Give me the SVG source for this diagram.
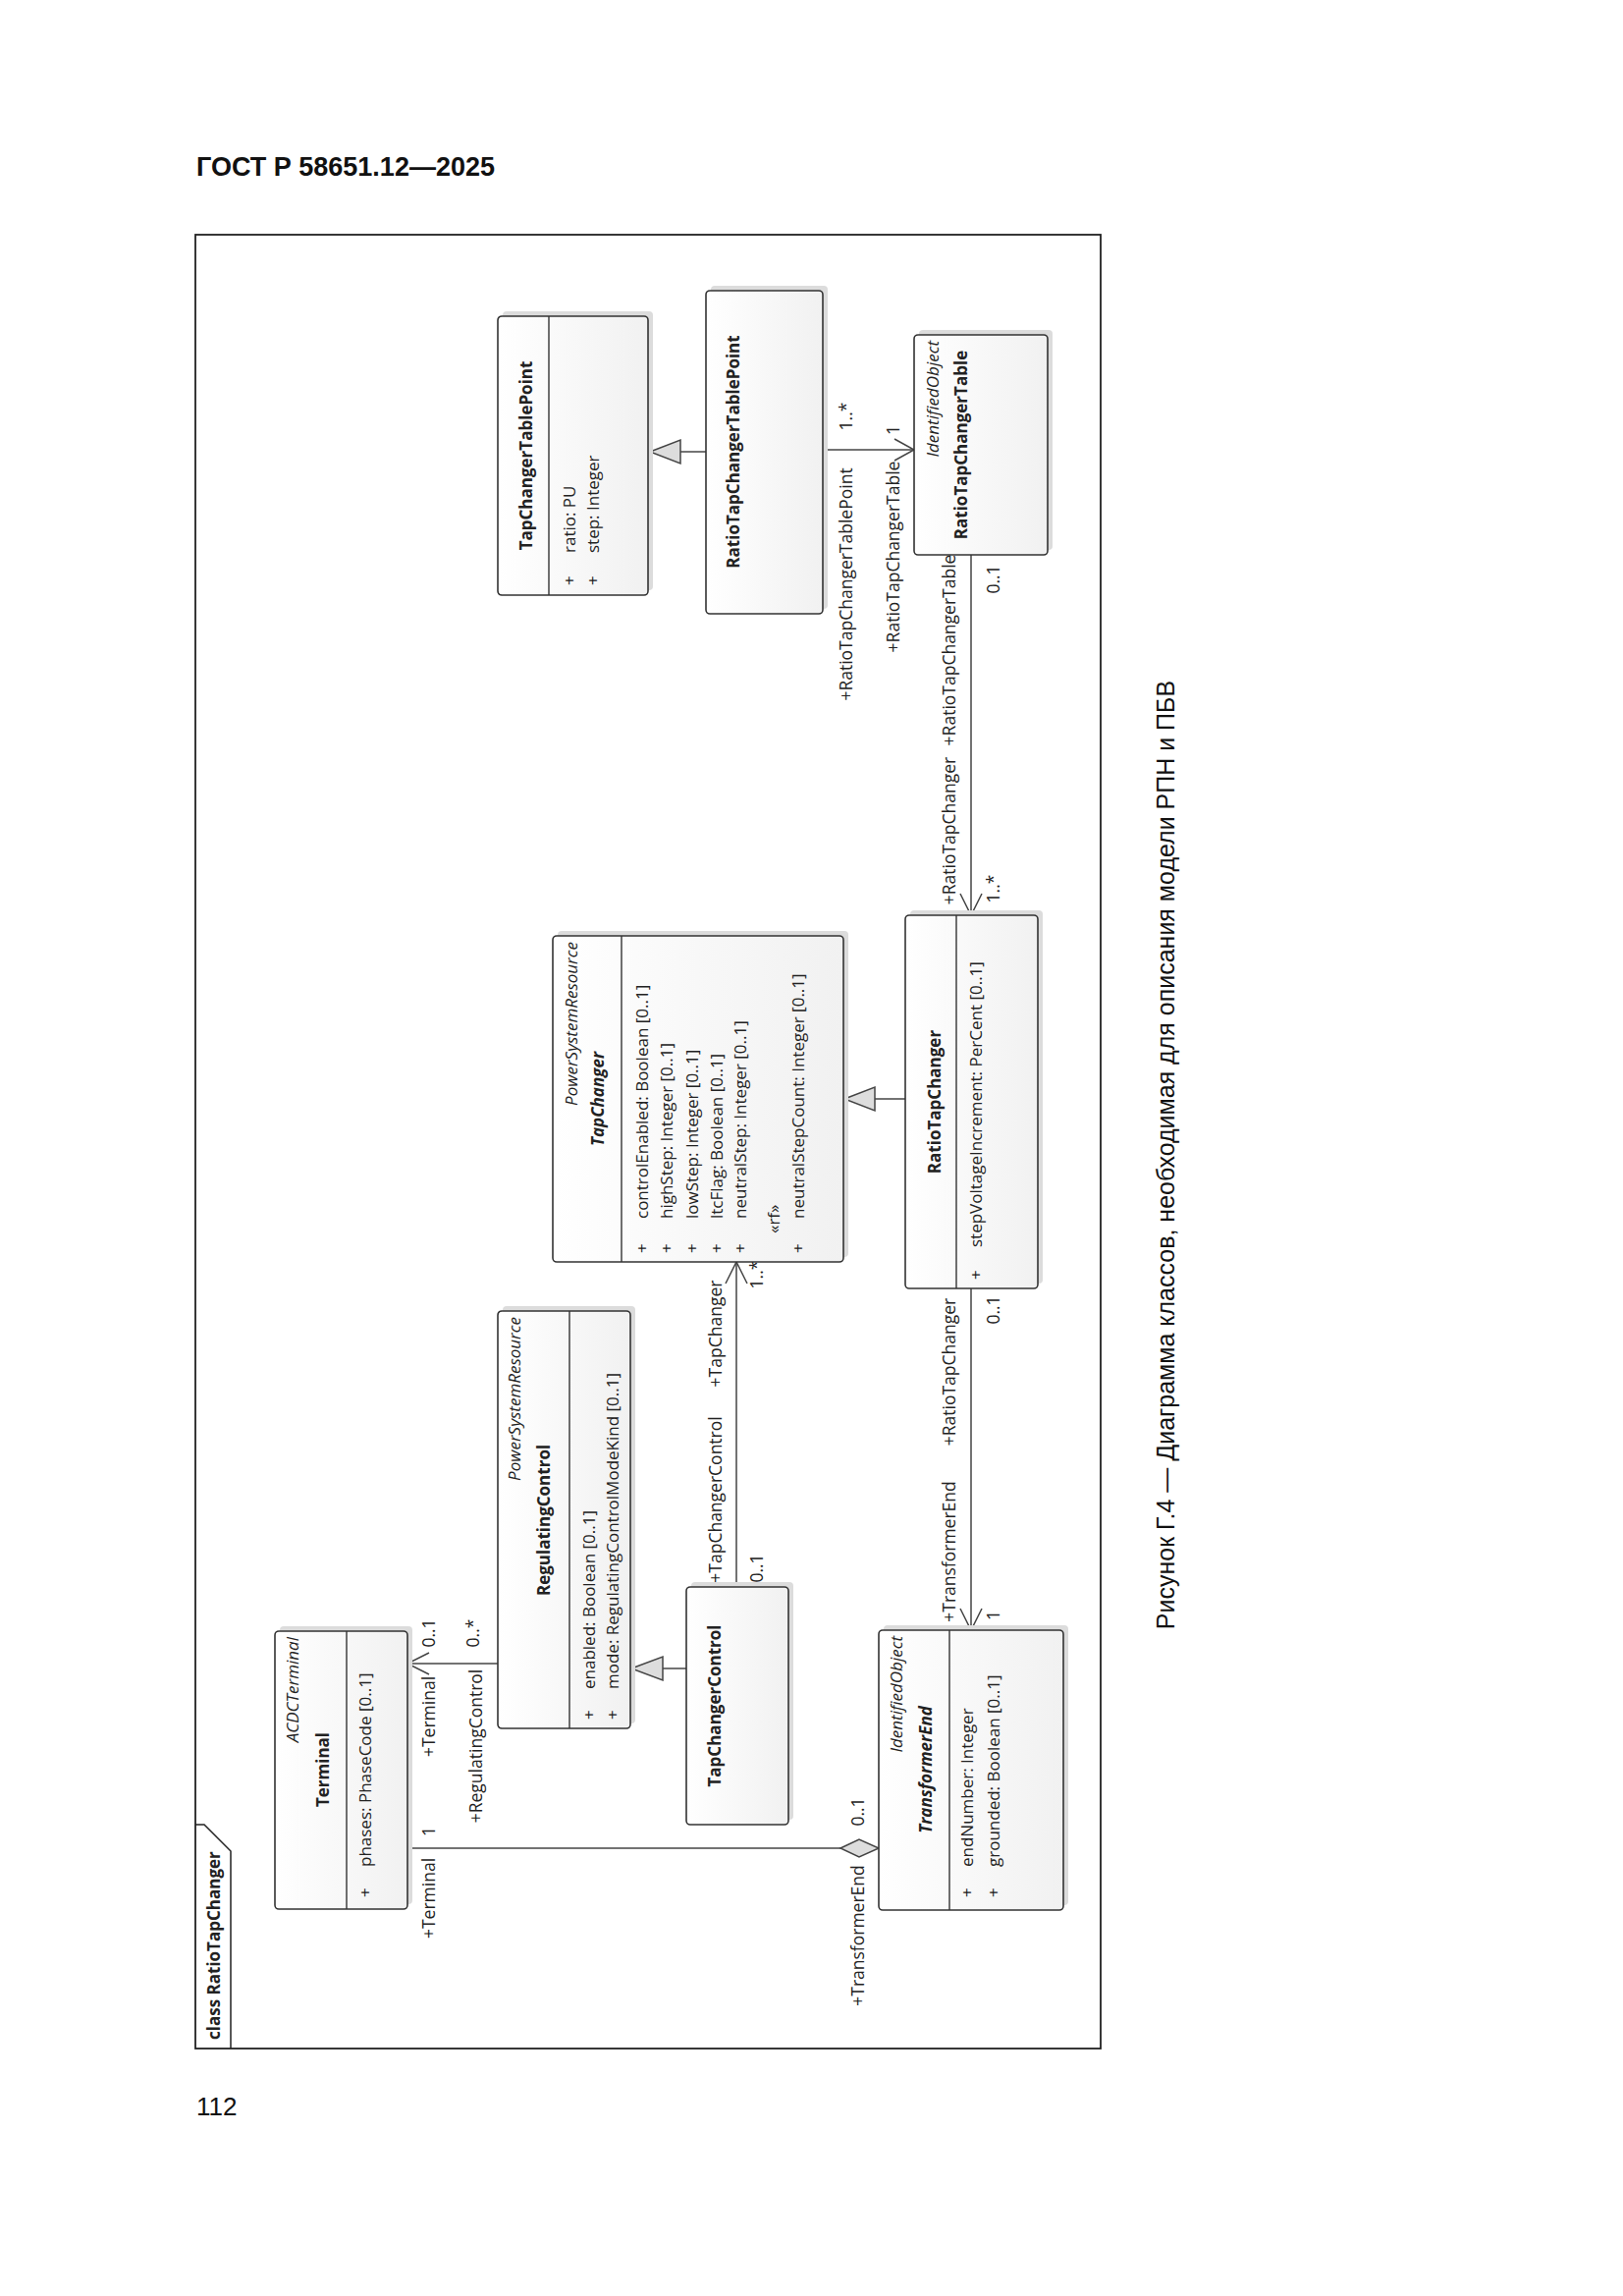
<svg xmlns="http://www.w3.org/2000/svg" width="1653" height="2338" viewBox="0 0 1653 2338">
<style>
text{font-family:"Open Sans","Noto Sans",sans-serif;fill:#222}
.hd{font-family:"Liberation Sans",Arial,sans-serif;font-weight:bold;font-size:27px;fill:#111}
.pg{font-family:"Liberation Sans Narrow","Liberation Sans",sans-serif;font-size:26px;fill:#111}
.cap{font-family:"Liberation Sans",Arial,sans-serif;font-size:25px;fill:#111}
.box{fill:url(#g);stroke:#333;stroke-width:1.6}
.sh{fill:#dcdcdc}
.dv{stroke:#333;stroke-width:1.4}
.n{font-size:17px;font-weight:bold;text-anchor:middle}
.ni{font-size:17px;font-weight:bold;font-style:italic;text-anchor:middle}
.st{font-size:17px;font-style:italic;text-anchor:end}
.a{font-size:17px}
.l{font-size:17.5px;text-anchor:middle}
.ln{stroke:#444;stroke-width:1.5;fill:none}
.tri{fill:#ddd;stroke:#444;stroke-width:1.5}
</style>
<defs>
<linearGradient id="g" x1="0" y1="0" x2="1" y2="0">
<stop offset="0" stop-color="#fff"/><stop offset="1" stop-color="#f1f1f1"/>
</linearGradient>
</defs>
<rect width="1653" height="2338" fill="#fff"/>
<text class="hd" x="200" y="179">ГОСТ Р 58651.12—2025</text>
<text class="pg" x="200" y="2154">112</text>
<text class="cap" transform="translate(1196,1176) rotate(-90)" text-anchor="middle">Рисунок Г.4 — Диаграмма классов, необходимая для описания модели РПН и ПБВ</text>

<g id="frame">
<rect x="199" y="239" width="922" height="1847" fill="none" stroke="#222" stroke-width="1.8"/>
<polyline points="199,1858 208,1858 235,1885 235,2086" fill="none" stroke="#222" stroke-width="1.5"/>
<text transform="translate(224,2077) rotate(-90)" style="font-size:17px;font-weight:bold">class RatioTapChanger</text>
</g>

<g id="connectors">
<line class="ln" x1="719" y1="460" x2="693" y2="460"/>
<polygon class="tri" points="662,460 693,448 693,472"/>
<line class="ln" x1="838" y1="458" x2="931" y2="458"/>
<polyline class="ln" points="911,447 931,458 911,469"/>
<line class="ln" x1="989" y1="565" x2="989" y2="932"/>
<polyline class="ln" points="978,910 989,932 1000,910"/>
<line class="ln" x1="922" y1="1119" x2="891" y2="1119"/>
<polygon class="tri" points="860,1119 891,1107 891,1131"/>
<line class="ln" x1="750" y1="1616" x2="750" y2="1285"/>
<polyline class="ln" points="739,1307 750,1285 761,1307"/>
<line class="ln" x1="699" y1="1699" x2="675" y2="1699"/>
<polygon class="tri" points="643,1699 675,1687 675,1711"/>
<line class="ln" x1="507" y1="1694" x2="415" y2="1694"/>
<polyline class="ln" points="437,1683 415,1694 437,1705"/>
<line class="ln" x1="415" y1="1882" x2="856" y2="1882"/>
<polygon class="tri" points="856,1882 875,1873 895,1882 875,1891"/>
<line class="ln" x1="989" y1="1312" x2="989" y2="1660"/>
<polyline class="ln" points="978,1638 989,1660 1000,1638"/>

<text class="l" transform="translate(868,424) rotate(-90)">1..*</text>
<text class="l" transform="translate(916,438) rotate(-90)">1</text>
<text class="l" transform="translate(868,595) rotate(-90)">+RatioTapChangerTablePoint</text>
<text class="l" transform="translate(916,567) rotate(-90)">+RatioTapChangerTable</text>
<text class="l" transform="translate(973,662) rotate(-90)">+RatioTapChangerTable</text>
<text class="l" transform="translate(973,846) rotate(-90)">+RatioTapChanger</text>
<text class="l" transform="translate(1018,590) rotate(-90)">0..1</text>
<text class="l" transform="translate(1018,905) rotate(-90)">1..*</text>
<text class="l" transform="translate(777,1298) rotate(-90)">1..*</text>
<text class="l" transform="translate(735,1358) rotate(-90)">+TapChanger</text>
<text class="l" transform="translate(735,1527) rotate(-90)">+TapChangerControl</text>
<text class="l" transform="translate(777,1597) rotate(-90)">0..1</text>
<text class="l" transform="translate(1018,1334) rotate(-90)">0..1</text>
<text class="l" transform="translate(973,1397) rotate(-90)">+RatioTapChanger</text>
<text class="l" transform="translate(973,1580) rotate(-90)">+TransformerEnd</text>
<text class="l" transform="translate(1018,1645) rotate(-90)">1</text>
<text class="l" transform="translate(443,1663) rotate(-90)">0..1</text>
<text class="l" transform="translate(443,1748) rotate(-90)">+Terminal</text>
<text class="l" transform="translate(488,1663) rotate(-90)">0..*</text>
<text class="l" transform="translate(491,1778) rotate(-90)">+RegulatingControl</text>
<text class="l" transform="translate(443,1865) rotate(-90)">1</text>
<text class="l" transform="translate(443,1933) rotate(-90)">+Terminal</text>
<text class="l" transform="translate(880,1845) rotate(-90)">0..1</text>
<text class="l" transform="translate(880,1971) rotate(-90)">+TransformerEnd</text>
</g>

<g id="TapChangerTablePoint">
<rect class="sh" x="512" y="317" width="153" height="284" rx="4"/>
<rect class="box" x="507" y="322" width="153" height="284" rx="4"/>
<line class="dv" x1="559" y1="322" x2="559" y2="606"/>
<text class="n" transform="translate(542,464) rotate(-90)">TapChangerTablePoint</text>
<text class="a" transform="translate(586,596) rotate(-90)">+</text>
<text class="a" transform="translate(586,563) rotate(-90)">ratio: PU</text>
<text class="a" transform="translate(610,596) rotate(-90)">+</text>
<text class="a" transform="translate(610,563) rotate(-90)">step: Integer</text>
</g>

<g id="RatioTapChangerTablePoint">
<rect class="sh" x="724" y="291" width="119" height="329" rx="4"/>
<rect class="box" x="719" y="296" width="119" height="329" rx="4"/>
<text class="n" transform="translate(753,460) rotate(-90)">RatioTapChangerTablePoint</text>
</g>

<g id="RatioTapChangerTable">
<rect class="sh" x="936" y="336" width="136" height="224" rx="4"/>
<rect class="box" x="931" y="341" width="136" height="224" rx="4"/>
<text class="st" transform="translate(956,347) rotate(-90)">IdentifiedObject</text>
<text class="n" transform="translate(985,453) rotate(-90)">RatioTapChangerTable</text>
</g>

<g id="TapChanger">
<rect class="sh" x="568" y="948" width="296" height="332" rx="4"/>
<rect class="box" x="563" y="953" width="296" height="332" rx="4"/>
<line class="dv" x1="633" y1="953" x2="633" y2="1285"/>
<text class="st" transform="translate(588,959) rotate(-90)">PowerSystemResource</text>
<text class="ni" transform="translate(615,1119) rotate(-90)">TapChanger</text>
<text class="a" transform="translate(660,1276) rotate(-90)">+</text>
<text class="a" transform="translate(660,1241) rotate(-90)">controlEnabled: Boolean [0..1]</text>
<text class="a" transform="translate(685,1276) rotate(-90)">+</text>
<text class="a" transform="translate(685,1241) rotate(-90)">highStep: Integer [0..1]</text>
<text class="a" transform="translate(711,1276) rotate(-90)">+</text>
<text class="a" transform="translate(711,1241) rotate(-90)">lowStep: Integer [0..1]</text>
<text class="a" transform="translate(736,1276) rotate(-90)">+</text>
<text class="a" transform="translate(736,1241) rotate(-90)">ltcFlag: Boolean [0..1]</text>
<text class="a" transform="translate(760,1276) rotate(-90)">+</text>
<text class="a" transform="translate(760,1241) rotate(-90)">neutralStep: Integer [0..1]</text>
<text class="a" transform="translate(794,1256) rotate(-90)">«rf»</text>
<text class="a" transform="translate(819,1276) rotate(-90)">+</text>
<text class="a" transform="translate(819,1241) rotate(-90)">neutralStepCount: Integer [0..1]</text>
</g>

<g id="RatioTapChanger">
<rect class="sh" x="927" y="927" width="135" height="380" rx="4"/>
<rect class="box" x="922" y="932" width="135" height="380" rx="4"/>
<line class="dv" x1="974" y1="932" x2="974" y2="1312"/>
<text class="n" transform="translate(958,1122) rotate(-90)">RatioTapChanger</text>
<text class="a" transform="translate(1000,1303) rotate(-90)">+</text>
<text class="a" transform="translate(1000,1270) rotate(-90)">stepVoltageIncrement: PerCent [0..1]</text>
</g>

<g id="RegulatingControl">
<rect class="sh" x="512" y="1330" width="135" height="425" rx="4"/>
<rect class="box" x="507" y="1335" width="135" height="425" rx="4"/>
<line class="dv" x1="580" y1="1335" x2="580" y2="1760"/>
<text class="st" transform="translate(530,1341) rotate(-90)">PowerSystemResource</text>
<text class="n" transform="translate(560,1548) rotate(-90)">RegulatingControl</text>
<text class="a" transform="translate(606,1751) rotate(-90)">+</text>
<text class="a" transform="translate(606,1720) rotate(-90)">enabled: Boolean [0..1]</text>
<text class="a" transform="translate(630,1751) rotate(-90)">+</text>
<text class="a" transform="translate(630,1720) rotate(-90)">mode: RegulatingControlModeKind [0..1]</text>
</g>

<g id="Terminal">
<rect class="sh" x="285" y="1656" width="135" height="283" rx="4"/>
<rect class="box" x="280" y="1661" width="135" height="283" rx="4"/>
<line class="dv" x1="353" y1="1661" x2="353" y2="1944"/>
<text class="st" transform="translate(304,1667) rotate(-90)">ACDCTerminal</text>
<text class="n" transform="translate(335,1802) rotate(-90)">Terminal</text>
<text class="a" transform="translate(378,1932) rotate(-90)">+</text>
<text class="a" transform="translate(378,1901) rotate(-90)">phases: PhaseCode [0..1]</text>
</g>

<g id="TapChangerControl">
<rect class="sh" x="704" y="1611" width="104" height="242" rx="4"/>
<rect class="box" x="699" y="1616" width="104" height="242" rx="4"/>
<text class="n" transform="translate(734,1737) rotate(-90)">TapChangerControl</text>
</g>

<g id="TransformerEnd">
<rect class="sh" x="900" y="1655" width="188" height="285" rx="4"/>
<rect class="box" x="895" y="1660" width="188" height="285" rx="4"/>
<line class="dv" x1="967" y1="1660" x2="967" y2="1945"/>
<text class="st" transform="translate(919,1666) rotate(-90)">IdentifiedObject</text>
<text class="ni" transform="translate(949,1802) rotate(-90)">TransformerEnd</text>
<text class="a" transform="translate(991,1932) rotate(-90)">+</text>
<text class="a" transform="translate(991,1901) rotate(-90)">endNumber: Integer</text>
<text class="a" transform="translate(1018,1932) rotate(-90)">+</text>
<text class="a" transform="translate(1018,1901) rotate(-90)">grounded: Boolean [0..1]</text>
</g>
</svg>
